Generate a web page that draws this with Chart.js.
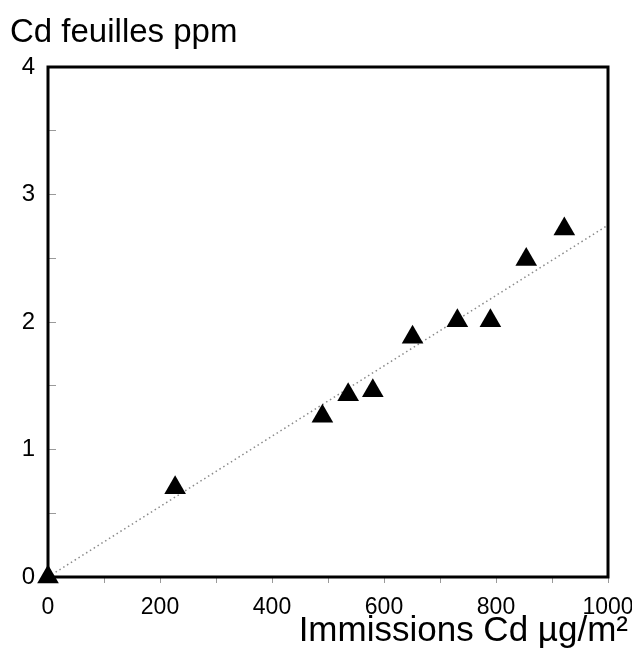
<!DOCTYPE html>
<html>
<head>
<meta charset="utf-8">
<script src="https://cdn.jsdelivr.net/npm/chart.js@4.4.1/dist/chart.umd.min.js"></script>
<style>
  html, body { margin: 0; padding: 0; background: #ffffff; }
  #wrap { width: 632px; height: 662px; position: relative; }
</style>
</head>
<body>
<div id="wrap"><canvas id="c" width="632" height="662"></canvas></div>
<script>
// ---- data ----
const immissionsX = [0, 227, 490, 536, 580, 651, 731, 790, 854, 922];
const cdLeavesY   = [0, 0.70, 1.26, 1.43, 1.46, 1.88, 2.01, 2.01, 2.49, 2.73];
const trendX = [0, 1000];
const trendY = [0, 2.76];
const xTickLabels = [0, 200, 400, 600, 800, 1000];
const yTickLabels = [0, 1, 2, 3, 4];
const yTitle = 'Cd feuilles ppm';
const xTitle = 'Immissions Cd \u00b5g/m\u00b2';

const FONT = "'Liberation Sans', Arial, Helvetica, sans-serif";

const points = immissionsX.map((x, i) => ({ x: x, y: cdLeavesY[i] }));
const trend = trendX.map((x, i) => ({ x: x, y: trendY[i] }));

const framePlugin = {
  id: 'frame',
  beforeDatasetsDraw(chart) {
    const { ctx, chartArea: a } = chart;
    ctx.save();
    ctx.strokeStyle = '#000';
    ctx.lineWidth = 3;
    ctx.strokeRect(a.left, a.top, a.right - a.left, a.bottom - a.top);
    ctx.restore();
  }
};

new Chart(document.getElementById('c'), {
  type: 'scatter',
  data: {
    datasets: [
      {
        label: 'trend',
        type: 'line',
        data: trend,
        borderColor: '#8a8a8a',
        borderWidth: 1.5,
        borderDash: [1.5, 3],
        pointRadius: 0,
        fill: false,
        order: 2
      },
      {
        label: 'Cd',
        data: points,
        pointStyle: 'triangle',
        pointRadius: 12.5,
        pointHoverRadius: 12.5,
        backgroundColor: '#000',
        borderColor: '#000',
        borderWidth: 0,
        clip: false,
        order: 1
      }
    ]
  },
  options: {
    responsive: false,
    animation: false,
    events: [],
    layout: { padding: { left: 10, right: 4, top: 0, bottom: 0 } },
    plugins: {
      legend: { display: false },
      tooltip: { enabled: false },
      title: {
        display: true,
        text: yTitle,
        align: 'start',
        color: '#000',
        font: { family: FONT, size: 33, weight: 'normal', lineHeight: 1.2 },
        padding: { top: 13, bottom: 14.4 }
      },
      subtitle: {
        display: true,
        position: 'bottom',
        text: xTitle,
        align: 'end',
        color: '#000',
        font: { family: FONT, size: 35, weight: 'normal', lineHeight: 0.5 },
        padding: { top: 3, bottom: 21.5 }
      }
    },
    scales: {
      x: {
        type: 'linear',
        min: 0,
        max: 1000,
        afterFit(s) { s.height = 43; s.paddingRight = 24; s.paddingLeft = 0; },
        border: { display: false },
        grid: {
          drawOnChartArea: false,
          drawTicks: true,
          tickLength: 6,
          color: '#9a9a9a',
          lineWidth: 1
        },
        ticks: {
          stepSize: 100,
          autoSkip: false,
          maxRotation: 0,
          padding: 11,
          color: '#000',
          font: { family: FONT, size: 23 },
          callback: (v) => xTickLabels.includes(v) ? String(v) : ''
        }
      },
      y: {
        type: 'linear',
        min: 0,
        max: 4,
        afterFit(s) { s.width = 38; },
        border: { display: false },
        grid: {
          drawOnChartArea: false,
          drawTicks: true,
          tickLength: -8,
          color: '#9a9a9a',
          lineWidth: 1
        },
        ticks: {
          stepSize: 0.5,
          autoSkip: false,
          padding: 21,
          color: '#000',
          font: { family: FONT, size: 24 },
          callback: (v) => yTickLabels.includes(v) ? String(v) : ''
        }
      }
    }
  },
  plugins: [framePlugin]
});
</script>
</body>
</html>
